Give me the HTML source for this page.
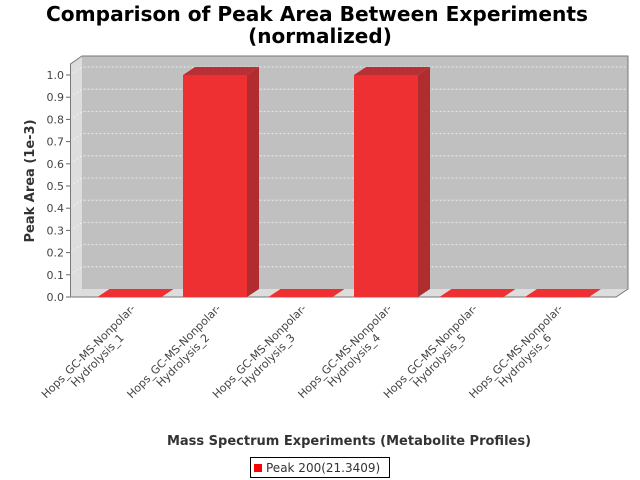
<!DOCTYPE html>
<html><head><meta charset="utf-8"><style>
body{margin:0;background:#fff}
svg{display:block;font-family:"DejaVu Sans","Liberation Sans",sans-serif}
</style></head><body>
<svg id="chart" width="640" height="480" xmlns="http://www.w3.org/2000/svg">
<text x="317" y="21" font-size="20" font-weight="bold" text-anchor="middle" textLength="542" lengthAdjust="spacingAndGlyphs">Comparison of Peak Area Between Experiments</text>
<text x="320" y="43" font-size="20" font-weight="bold" text-anchor="middle">(normalized)</text>
<g id="plot"></g>
<text transform="translate(34,181) rotate(-90)" font-size="13" font-weight="bold" fill="#333" text-anchor="middle">Peak Area (1e-3)</text>
<text x="349" y="445" font-size="13" font-weight="bold" fill="#333" text-anchor="middle">Mass Spectrum Experiments (Metabolite Profiles)</text>
<g>
<rect x="250.5" y="457.5" width="139" height="20" fill="#fff" stroke="#000"/>
<rect x="254" y="464" width="8" height="8" fill="#ff0000"/>
<text x="266" y="472" font-size="12" fill="#333">Peak 200(21.3409)</text>
</g>
</svg>
<script>
const categories1 = ["Hops_GC-MS-Nonpolar-","Hops_GC-MS-Nonpolar-","Hops_GC-MS-Nonpolar-","Hops_GC-MS-Nonpolar-","Hops_GC-MS-Nonpolar-","Hops_GC-MS-Nonpolar-"];
const categories2 = ["Hydrolysis_1","Hydrolysis_2","Hydrolysis_3","Hydrolysis_4","Hydrolysis_5","Hydrolysis_6"];
const values = [0, 1.0, 0, 1.0, 0, 0];
const yTicks = [0,0.1,0.2,0.3,0.4,0.5,0.6,0.7,0.8,0.9,1.0];
const yTickLabels = ["0.0","0.1","0.2","0.3","0.4","0.5","0.6","0.7","0.8","0.9","1.0"];

const NS="http://www.w3.org/2000/svg";
const g=document.getElementById('plot');
const X0=70,X1=616,Y0=297,DX=12,DY=8;
const yScale=v=>Y0-v*222;
const barW=64, first=97.5, step=85.5;
const xBar=i=>first+i*step;
function mk(tag,attrs){const e=document.createElementNS(NS,tag);for(const k in attrs)e.setAttribute(k,attrs[k]);g.appendChild(e);return e;}

let e;
e=mk('rect',{x:X0+DX,y:56,width:X1-X0,height:Y0-DY-56,fill:'#c0c0c0'});


e=mk('polygon',{points:`${X0},${64} ${X0+DX},56 ${X0+DX},${Y0-DY} ${X0},${Y0}`,fill:'#dddddd'});


e=mk('polygon',{points:`${X0},${Y0} ${X0+DX},${Y0-DY} ${X1+DX},${Y0-DY} ${X1},${Y0}`,fill:'#dddddd'});


yTicks.forEach((t,i)=>{
  const y=yScale(t);
  if(t>0){
    e=mk('polyline',{points:`${X0},${y} ${X0+DX},${y-DY} ${X1+DX},${y-DY}`,fill:'none',stroke:'#f4f4f4','stroke-width':0.8,'stroke-dasharray':'2,2'});
    
    
  }
  e=mk('line',{x1:X0-4,x2:X0,y1:y,y2:y,stroke:'#666'});
  
  
  e=mk('text',{x:X0-6,y:y+4,'font-size':11,fill:'#444','text-anchor':'end'});
  e.textContent=yTickLabels[i];
  
  
});
e=mk('polyline',{points:`${X0+.5},${Y0} ${X0+.5},64 ${X0+DX},56 ${X1+DX},56 ${X1+DX},${Y0-DY} ${X1},${Y0} ${X0},${Y0}`,fill:'none',stroke:'#777'});



values.forEach((v,i)=>{
  const x=xBar(i), yt=yScale(v);
  const grp=document.createElementNS(NS,'g');g.appendChild(grp);
  
  
  const add=(pts,fill)=>{const p=document.createElementNS(NS,'polygon');p.setAttribute('points',pts);p.setAttribute('fill',fill);grp.appendChild(p);return p;};
  if(v>0){
    add(`${x},${yt} ${x+barW},${yt} ${x+barW},${Y0} ${x},${Y0}`,'#ee3033');
    add(`${x+barW},${yt} ${x+barW+DX},${yt-DY} ${x+barW+DX},${Y0-DY} ${x+barW},${Y0}`,'#b02c2f');
  }
  add(`${x},${yt} ${x+DX},${yt-DY} ${x+barW+DX},${yt-DY} ${x+barW},${yt}`,v>0?'#b83035':'#ee3033');
  const cx=x+barW/2-38.5;
  const t1=document.createElementNS(NS,'text');
  t1.setAttribute('transform',`translate(${cx},354) rotate(-45)`);
  t1.setAttribute('font-size','11');t1.setAttribute('fill','#444');t1.setAttribute('text-anchor','middle');
  t1.textContent=categories1[i];
  
  
  g.appendChild(t1);
  const t2=document.createElementNS(NS,'text');
  t2.setAttribute('transform',`translate(${cx+9},363) rotate(-45)`);
  t2.setAttribute('font-size','11');t2.setAttribute('fill','#444');t2.setAttribute('text-anchor','middle');
  t2.textContent=categories2[i];
  
  
  g.appendChild(t2);
});
</script>
</body></html>
